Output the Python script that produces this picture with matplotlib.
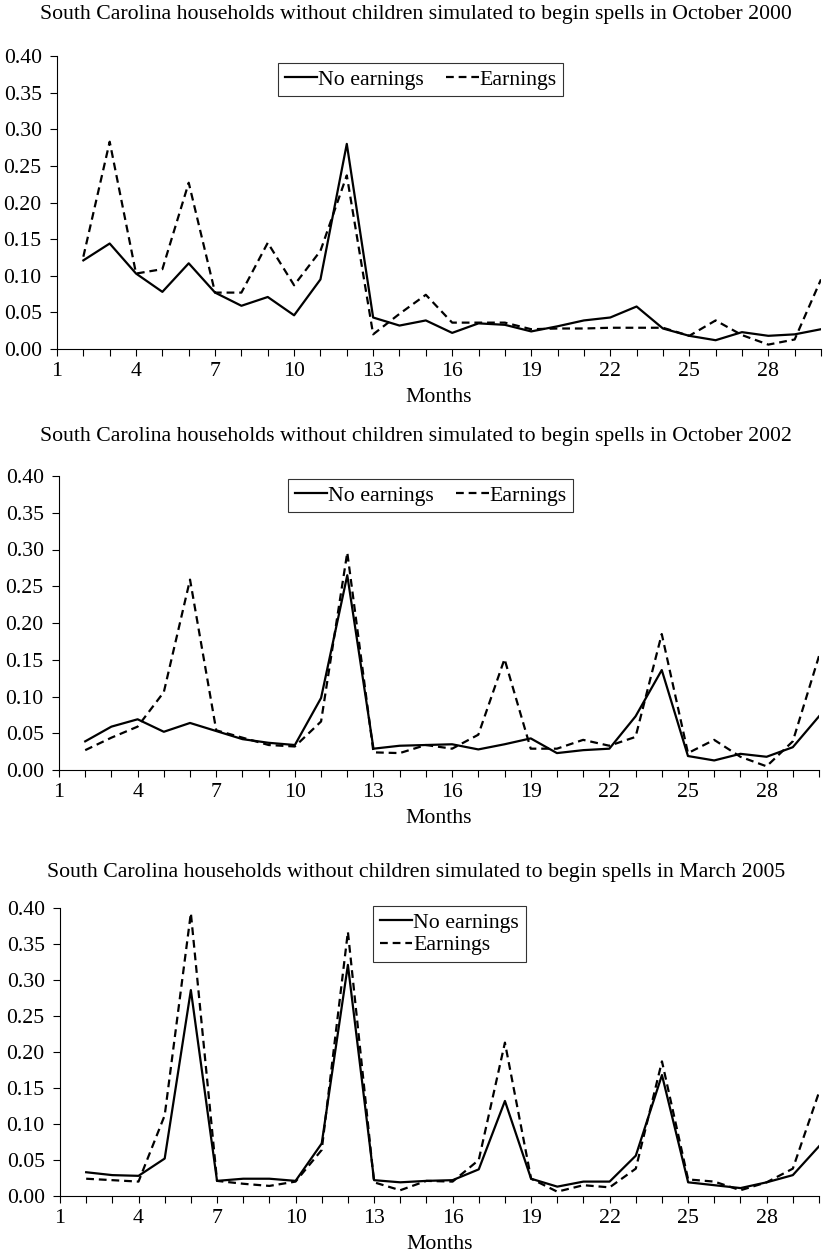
import matplotlib.pyplot as plt

plt.rcParams['font.family'] = ['Liberation Serif', 'DejaVu Serif']

months = list(range(2, 31))

# Oct 2000 spells
no_earn_2000 = [0.121, 0.144, 0.103, 0.078, 0.117, 0.077, 0.059, 0.071, 0.046, 0.095,
                0.280, 0.043, 0.032, 0.039, 0.022, 0.035, 0.033, 0.024, 0.031, 0.039,
                0.043, 0.058, 0.028, 0.018, 0.012, 0.023, 0.018, 0.020, 0.027]
earn_2000 = [0.126, 0.283, 0.103, 0.109, 0.227, 0.077, 0.077, 0.145, 0.087, 0.134,
             0.237, 0.020, 0.048, 0.074, 0.036, 0.036, 0.036, 0.027, 0.028, 0.028,
             0.029, 0.029, 0.029, 0.018, 0.039, 0.019, 0.006, 0.013, 0.095]

# Oct 2002 spells
no_earn_2002 = [0.039, 0.059, 0.069, 0.052, 0.064, 0.053, 0.042, 0.037, 0.034, 0.098,
                0.265, 0.029, 0.033, 0.034, 0.035, 0.028, 0.035, 0.043, 0.023, 0.027,
                0.029, 0.073, 0.136, 0.019, 0.013, 0.022, 0.018, 0.031, 0.073]
earn_2002 = [0.027, 0.044, 0.059, 0.106, 0.259, 0.054, 0.044, 0.034, 0.032, 0.066,
             0.296, 0.024, 0.023, 0.034, 0.029, 0.048, 0.151, 0.029, 0.029, 0.041,
             0.033, 0.045, 0.185, 0.023, 0.041, 0.018, 0.005, 0.039, 0.155]

# Mar 2005 spells
no_earn_2005 = [0.033, 0.029, 0.028, 0.052, 0.286, 0.021, 0.024, 0.024, 0.021, 0.073,
                0.321, 0.022, 0.019, 0.021, 0.022, 0.037, 0.132, 0.024, 0.013, 0.020,
                0.020, 0.056, 0.168, 0.019, 0.015, 0.011, 0.019, 0.029, 0.069]
earn_2005 = [0.024, 0.022, 0.020, 0.112, 0.393, 0.021, 0.017, 0.014, 0.020, 0.064,
             0.367, 0.019, 0.008, 0.021, 0.020, 0.050, 0.213, 0.024, 0.006, 0.015,
             0.012, 0.038, 0.187, 0.023, 0.020, 0.008, 0.019, 0.038, 0.144]

titles = ['South Carolina households without children simulated to begin spells in October 2000',
          'South Carolina households without children simulated to begin spells in October 2002',
          'South Carolina households without children simulated to begin spells in March 2005']

W, H = 824, 1253
fig = plt.figure(figsize=(W / 100, H / 100), dpi=100)

# axes boxes in pixels: left, top, right, bottom
boxes = [(57, 56, 821, 349), (59, 476, 819, 770), (60, 908, 819, 1196)]
title_y = [14, 437, 873]
# legend upper-left corner in pixels and number of columns
legend_pos = [(278, 63, 2), (288, 479, 2), (373, 906, 1)]
series = [(no_earn_2000, earn_2000), (no_earn_2002, earn_2002), (no_earn_2005, earn_2005)]

fs = 15.7

for i in range(3):
    l, t, r, b = boxes[i]
    ax = fig.add_axes([l / W, 1 - b / H, (r - l) / W, (b - t) / H])
    ne, e = series[i]
    ax.plot(months, ne, color='black', lw=1.6, label='No earnings')
    ax.plot(months, e, color='black', lw=1.6, ls=(0, (3.5, 2.2)), label='Earnings')
    ax.set_xlim(1, 30)
    ax.set_ylim(0, 0.40)
    ax.set_yticks([0.0, 0.05, 0.10, 0.15, 0.20, 0.25, 0.30, 0.35, 0.40])
    ax.set_yticklabels(['%.2f' % v for v in ax.get_yticks()], fontsize=fs)
    ax.set_xticks(range(1, 31))
    ax.set_xticklabels([str(m) if (m - 1) % 3 == 0 else '' for m in range(1, 31)], fontsize=fs)
    ax.tick_params(direction='out', length=5, width=0.8, color='black')
    ax.tick_params(axis='y', pad=6)
    ax.tick_params(axis='x', pad=4.5)
    ax.spines['top'].set_visible(False)
    ax.spines['right'].set_visible(False)
    ax.spines['left'].set_linewidth(0.8)
    ax.spines['bottom'].set_linewidth(0.8)
    ax.set_xlabel('Months', fontsize=fs, labelpad=5)

    fig.text(416 / W, 1 - title_y[i] / H, titles[i], ha='center', va='center', fontsize=fs)

    lx, ly, nc = legend_pos[i]
    leg = ax.legend(loc='upper left', bbox_to_anchor=(lx / W, 1 - ly / H),
                    bbox_transform=fig.transFigure, ncol=nc, fontsize=fs,
                    frameon=True, fancybox=False, borderaxespad=0,
                    handlelength=1.5, handletextpad=0.05, columnspacing=1.0,
                    borderpad=0.3, labelspacing=0.1)
    leg.get_frame().set_edgecolor('black')
    leg.get_frame().set_linewidth(0.8)

fig.savefig('out.png', dpi=100)
